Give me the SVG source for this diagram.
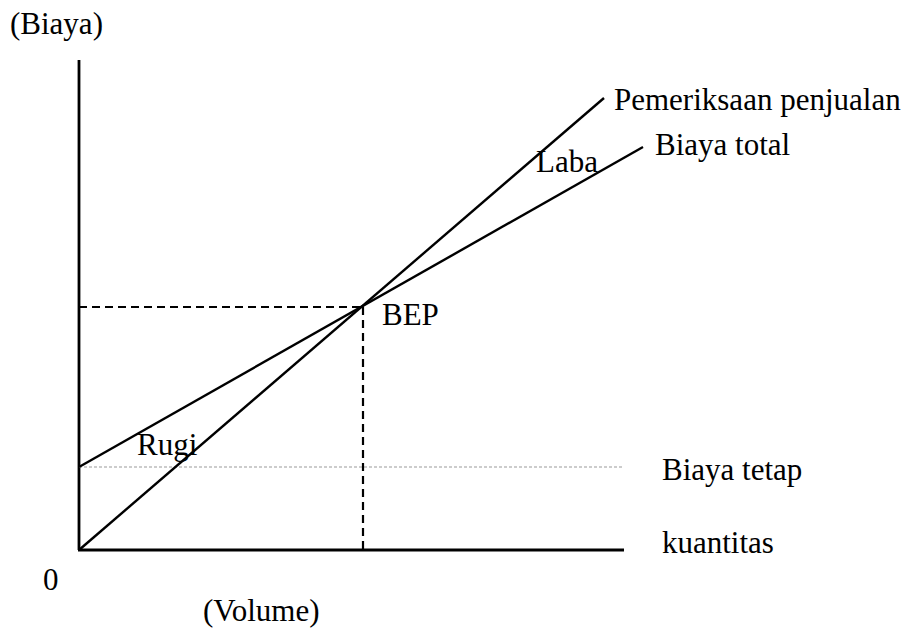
<svg xmlns="http://www.w3.org/2000/svg" width="905" height="630" viewBox="0 0 905 630">
<style>
text{font-family:"Liberation Serif","Times New Roman",serif;font-size:31px;fill:#000}
.ax{stroke:#000;stroke-width:2.8;fill:none}
.ln{stroke:#000;stroke-width:2.4;fill:none}
.dash{stroke:#000;stroke-width:2.2;stroke-dasharray:8 5;fill:none}
.dot{stroke:#999;stroke-width:1.2;stroke-dasharray:3 2;fill:none}
</style>
<rect width="905" height="630" fill="#fff"/>
<g id="connectors">
<line class="ax" x1="79" y1="60" x2="79" y2="550"/>
<line class="ax" x1="78" y1="550" x2="624" y2="550"/>
<line class="dot" x1="79" y1="467" x2="624" y2="467"/>
<line class="dash" x1="79" y1="307" x2="363" y2="307"/>
<line class="dash" x1="363" y1="307" x2="363" y2="550"/>
<line class="ln" x1="79" y1="550" x2="604" y2="98"/>
<line class="ln" x1="79" y1="467" x2="643" y2="147"/>
</g>
<g id="label-biaya"><text x="10" y="34">(Biaya)</text></g>
<g id="label-penjualan"><text x="614" y="110">Pemeriksaan penjualan</text></g>
<g id="label-total"><text x="655" y="155">Biaya total</text></g>
<g id="label-laba"><text x="536" y="172">Laba</text></g>
<g id="label-bep"><text x="382" y="325">BEP</text></g>
<g id="label-rugi"><text x="137" y="455">Rugi</text></g>
<g id="label-tetap"><text x="662" y="480">Biaya tetap</text></g>
<g id="label-kuantitas"><text x="662" y="553">kuantitas</text></g>
<g id="label-zero"><text x="43" y="590">0</text></g>
<g id="label-volume"><text x="203" y="621">(Volume)</text></g>
</svg>
